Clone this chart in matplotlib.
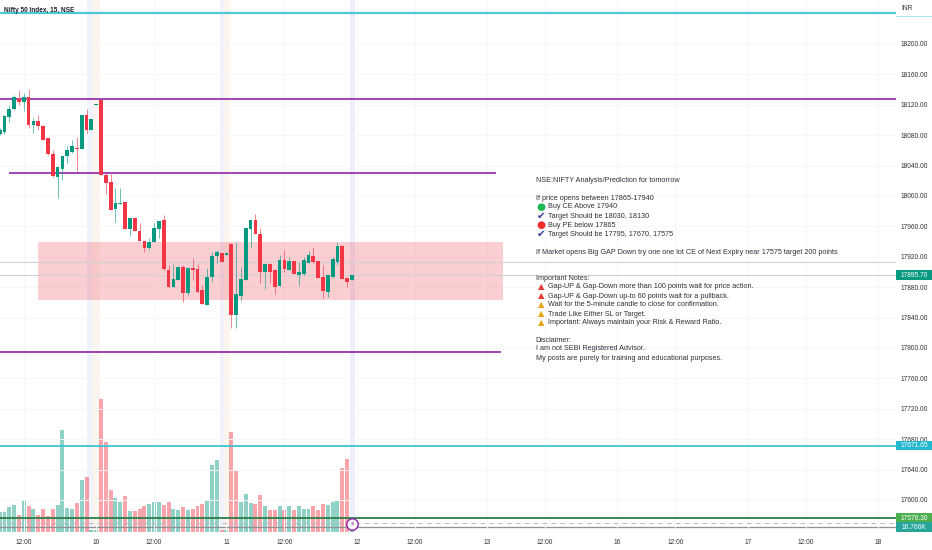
import numpy as np
import matplotlib
matplotlib.use('Agg')
import matplotlib.pyplot as plt
from matplotlib.patches import Rectangle
from matplotlib.transforms import blended_transform_factory

# Sample data
# bar index 0 is the first 15 minute bar of the 10th, one day is 27 slots
first_bar = -21
opens = [18082.4, 18084.6, 18104.4, 18114.4, 18127.6, 18124.1, 18129.8, 18093.8, 18098.2, 18092.0, 18075.4, 18055.2,
         18025.4, 18036.4, 18052.6, 18058.7, 18063.1, 18062.2, 18105.7, 18087.7, 18120.1,
         18126.3, 18027.6, 18018.4, 17983.4, 17989.5, 17991.3, 17957.5, 17970.7, 17954.0, 17940.8, 17931.6, 17939.5, 17956.6,
         17967.6, 17902.6, 17880.7, 17890.3, 17906.1, 17873.2, 17904.8, 17903.5, 17875.4, 17857.4, 17893.8, 17921.4, 17924.5, 17923.2,
         17936.4, 17844.3, 17868.8, 17890.3, 17957.4, 17968.4, 17950.0, 17900.4, 17910.5, 17901.7, 17881.5, 17915.8, 17903.5,
         17914.0, 17896.4, 17897.3, 17912.2, 17921.4, 17914.0, 17892.9, 17874.1, 17893.8, 17913.6, 17933.3, 17891.6, 17890.3]
highs = [18089.0, 18106.5, 18119.7, 18132.9, 18139.4, 18135.0, 18140.3, 18102.2, 18106.5, 18093.0, 18075.4, 18060.5,
         18037.7, 18052.6, 18065.8, 18073.6, 18077.2, 18105.7, 18114.4, 18100.4, 18121.0,
         18126.3, 18030.7, 18028.9, 18010.1, 18010.1, 17991.5, 17970.7, 17972.9, 17964.1, 17941.0, 17944.3, 17964.1, 17966.3,
         17975.0, 17909.2, 17910.5, 17907.9, 17909.2, 17904.8, 17917.9, 17910.5, 17882.9, 17904.8, 17926.7, 17928.9, 17924.5, 17924.5,
         17937.7, 17939.9, 17907.0, 17958.0, 17968.4, 17975.8, 17957.4, 17910.5, 17910.5, 17903.9, 17922.3, 17928.9, 17920.1,
         17914.0, 17913.6, 17920.1, 17928.0, 17932.4, 17914.0, 17909.2, 17895.6, 17920.1, 17939.9, 17935.5, 17891.6, 17895.7]
lows = [18080.0, 18082.0, 18097.8, 18113.0, 18119.7, 18112.2, 18089.0, 18082.4, 18086.8, 18074.0, 18054.0, 18025.4,
        17997.8, 18021.0, 18043.0, 18056.1, 18033.3, 18062.0, 18083.3, 18087.0, 18120.0,
        18027.0, 18002.6, 17982.0, 17966.3, 17989.0, 17956.0, 17947.9, 17953.8, 17941.0, 17926.8, 17929.0, 17939.0, 17944.3,
        17903.0, 17878.5, 17880.0, 17889.4, 17860.9, 17868.4, 17889.4, 17872.8, 17857.5, 17857.0, 17887.2, 17912.2, 17913.0, 17923.0,
        17825.8, 17825.8, 17862.2, 17890.0, 17933.3, 17950.0, 17885.9, 17877.2, 17885.9, 17871.0, 17881.0, 17900.4, 17902.6,
        17897.0, 17881.5, 17895.6, 17912.0, 17911.4, 17892.0, 17865.3, 17867.5, 17891.6, 17909.2, 17891.0, 17879.8, 17890.0]
closes = [18085.9, 18104.4, 18114.4, 18129.8, 18124.1, 18129.8, 18094.3, 18098.2, 18092.0, 18074.5, 18055.2, 18026.3,
          18037.7, 18052.6, 18060.5, 18064.9, 18062.2, 18105.7, 18086.8, 18100.4, 18121.0,
          18027.6, 18017.5, 17982.4, 17990.8, 17990.8, 17956.6, 17970.7, 17954.0, 17941.3, 17932.0, 17939.5, 17957.0, 17966.3,
          17903.6, 17880.7, 17890.7, 17905.7, 17873.2, 17904.8, 17902.6, 17874.1, 17857.9, 17892.9, 17921.4, 17925.8, 17913.1, 17924.5,
          17843.4, 17870.6, 17890.7, 17957.4, 17968.4, 17950.0, 17900.4, 17910.5, 17900.4, 17880.7, 17915.8, 17903.9, 17914.0,
          17897.3, 17899.1, 17914.9, 17922.3, 17914.0, 17892.9, 17875.4, 17895.6, 17916.6, 17934.2, 17891.6, 17887.2, 17895.7]
volumes = [66, 68, 84, 92, 56, 107, 88, 78, 56, 77, 55, 77, 92, 343, 80, 77, 97, 174, 184, 6, 6,
           446, 302, 142, 115, 102, 121, 69, 69, 78, 88, 94, 102, 99, 92, 99, 77, 73, 83, 75, 78, 87, 95, 106, 226, 240, 6, 6,
           334, 209, 102, 127, 97, 95, 123, 88, 74, 74, 87, 75, 88, 73, 88, 77, 77, 88, 75, 94, 92, 102, 105, 214, 245, 16.766]
vol_red_anyway = [28]  # this volume bar is red under a green candle

price_ticks = list(range(17600, 18240, 40))
day_ticks = [-1, 26, 53, 80, 107, 134, 161]
day_labels = ['10', '11', '12', '13', '16', '17', '18']
noon_ticks = [-16, 11, 38, 65, 92, 119, 146]

top_level = 18240.8
purple_levels = [(18128, -21, 165), (18030, -19.1, 81.9), (17795, -21, 82.8)]
zone_low, zone_high = 17865, 17940
grey_levels = [17913, 17895.7]
cyan_level = 17671.65
green_level = 17576.3
dashed_level = 17570.3
last_close = 17895.7
vol_last = 16.766

up = '#089981'
down = '#f23645'
text_col = '#2f323a'

plt.rcParams['font.family'] = ['Liberation Sans', 'DejaVu Sans']

fig = plt.figure(figsize=(9.32, 5.5), dpi=100, facecolor='white')
box = [0, 18 / 550, 896 / 932, 532 / 550]
vax = fig.add_axes(box, zorder=1)
ax = fig.add_axes(box, zorder=2)
ax.patch.set_visible(False)

x0 = -101 / 4.826
x1 = (896 - 101) / 4.826
for a in (ax, vax):
    a.set_xlim(x0, x1)
    for s in a.spines.values():
        s.set_visible(False)
ax.set_ylim(18200 - 488 / 0.76, 18200 + 44 / 0.76)
vax.set_ylim(0, 532 * 3.35)
vax.set_yticks([])
vax.set_xticks([])

# session break bands
for a, b, col in [(-2.85, -1.6, '#f0f2fc'), (-1.6, -0.2, '#fdf5ec'), (24.6, 25.4, '#f0f2fc'), (25.4, 26.7, '#fdf5ec'), (51.6, 52.6, '#eceefc')]:
    vax.axvspan(a, b, color=col, lw=0, zorder=0)

ax.set_yticks(price_ticks)
ax.set_yticklabels(['%.2f' % p for p in price_ticks])
ax.yaxis.tick_right()
ax.set_xticks(day_ticks + noon_ticks)
ax.set_xticklabels(day_labels + ['12:00'] * len(noon_ticks))
ax.tick_params(axis='both', length=0, labelsize=4.8, labelcolor=text_col)
ax.tick_params(axis='y', pad=3.6)
ax.tick_params(axis='x', pad=5)
ax.grid(True, color='#f6f7f9', lw=0.7)
ax.set_axisbelow(True)

idx = np.arange(first_bar, first_bar + len(closes))
o = np.array(opens)
c = np.array(closes)
colors = [up if cl >= op else down for op, cl in zip(o, c)]
vol_colors = list(colors)
for i in vol_red_anyway:
    vol_colors[i - first_bar] = down

# volume
vax.bar(idx, volumes, width=0.82, color=vol_colors, alpha=0.45, lw=0, zorder=2)

# zone and levels
ax.add_patch(Rectangle((-13, zone_low), 96, zone_high - zone_low, fc='#f23645', alpha=0.24, ec='#f23645', lw=0.4, zorder=1))
for lv in grey_levels:
    ax.axhline(lv, color='#cfd1d5', lw=0.8, zorder=1.5)
ax.axhline(top_level, color='#4fc9d6', lw=1.6, zorder=3)
ax.axhline(cyan_level, color='#3fc4d3', lw=1.3, zorder=3)
ax.axhline(green_level, color='#2e7d46', lw=1.3, zorder=3)
ax.axhline(dashed_level, color='#b9bcc2', lw=0.8, ls=(0, (4, 4)), zorder=3)
vax.axhline(vol_last, color='#8d9096', lw=0.9, zorder=3)
for lv, a, b in purple_levels:
    ax.plot([a, b], [lv, lv], color='#8e24aa', lw=1.2, zorder=3, solid_capstyle='butt')

# candles
ax.vlines(idx, lows, highs, colors=colors, lw=0.7, alpha=0.6, zorder=4)
ax.bar(idx, np.abs(c - o) + 0.6, bottom=np.minimum(o, c) - 0.3, width=0.78, color=colors, lw=0, zorder=5)

# lightning mark
ax.plot([52.05], [17568.4], 'o', ms=8.2, mfc='white', mec='#8e24aa', mew=1.0, zorder=6, clip_on=False)
ax.text(52.05, 17568.4, '\u26a1', color='#8e24aa', fontsize=5.5, ha='center', va='center', zorder=7, family=['DejaVu Sans'])

# price tags on the scale
tr = blended_transform_factory(ax.transAxes, ax.transData)
for val, txt, col in [(last_close, '17895.70', up), (cyan_level, '17671.65', '#22b8cf'), (green_level, '17576.30', '#4caf50'), (17564.0, '16.766K', '#26a69a')]:
    ax.add_patch(Rectangle((1, val - 6.4), 36 / 896, 12.8, fc=col, lw=0, transform=tr, clip_on=False, zorder=8))
    ax.text(1 + 18 / 896, val, txt, color='white', fontsize=4.8, ha='center', va='center', transform=tr, zorder=9)
ax.add_patch(Rectangle((1, 18235), 36 / 896, 2.2, fc='#a6e4ea', lw=0, transform=tr, clip_on=False, zorder=8))
ax.text(1 + 5 / 896, 18247, 'INR', color=text_col, fontsize=4.8, ha='left', va='center', transform=tr)

fig.text(4 / 932, 1 - 10 / 550, 'Nifty 50 Index, 15, NSE', color='#1c1f26', fontsize=4.7, fontweight='bold', va='center')

# notes block
notes = [(181, None, None, 'NSE:NIFTY Analysis/Prediction for tomorrow'),
         (198, None, None, 'If price opens between 17865-17940'),
         (207, '\u25cf', '#1db954', 'Buy CE Above 17940'),
         (216, '\u2714', '#3a3f9e', 'Target Should be 18030, 18130'),
         (225, '\u25cf', '#f02d2d', 'Buy PE below 17865'),
         (234, '\u2714', '#3a3f9e', 'Target Should be 17795, 17670, 17575'),
         (252, None, None, 'If Market opens Big GAP Down try one one lot CE of Next Expiry near 17575 target 200 points'),
         (278, None, None, 'Important Notes:'),
         (287, '\u25b2', '#e53935', 'Gap-UP & Gap-Down more than 100 points wait for price action.'),
         (296, '\u25b2', '#e53935', 'Gap-UP & Gap-Down up-to 60 points wait for a pullback.'),
         (305, '\u25b2', '#e8a317', 'Wait for the 5-minute candle to close for confirmation.'),
         (314, '\u25b2', '#e8a317', 'Trade Like Either SL or Target.'),
         (323, '\u25b2', '#e8a317', 'Important: Always maintain your Risk & Reward Ratio.'),
         (340, None, None, 'Disclaimer:'),
         (349, None, None, 'I am not SEBI Registered Advisor.'),
         (358, None, None, 'My posts are purely for training and educational purposes.')]
for y, mark, col, line in notes:
    if mark is None:
        fig.text(535.5 / 932, 1 - y / 550, line, color=text_col, fontsize=5.2, va='center')
    else:
        size = 6.0 if mark == '\u25b2' else 7.5
        fig.text(541 / 932, 1 - y / 550, mark, color=col, fontsize=size, ha='center', va='center', family=['DejaVu Sans'])
        fig.text(548 / 932, 1 - y / 550, line, color=text_col, fontsize=5.2, va='center')

fig.savefig('out.png', dpi=100)
